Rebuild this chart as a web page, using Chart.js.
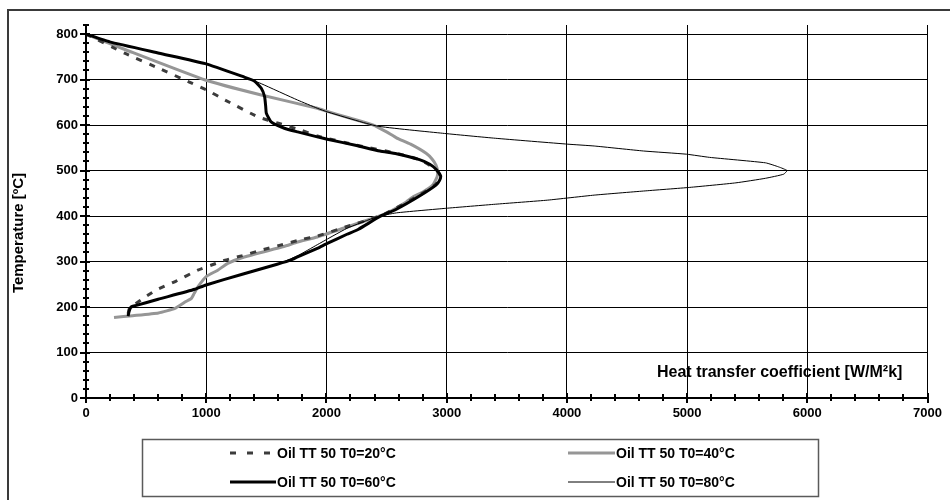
<!DOCTYPE html>
<html>
<head>
<meta charset="utf-8">
<script src="https://cdn.jsdelivr.net/npm/chart.js@4.4.1/dist/chart.umd.min.js"></script>
<style>
  html, body { margin: 0; padding: 0; background: #fff; }
  canvas { display: block; }
</style>
</head>
<body>
<canvas id="c" width="950" height="500"></canvas>
<script>
// Quench oil TT 50: heat transfer coefficient vs. surface temperature
// for four bath temperatures. Each curve is traced from 800 °C downward.

const seriesLabels = ['Oil TT 50 T0=20°C', 'Oil TT 50 T0=40°C', 'Oil TT 50 T0=60°C', 'Oil TT 50 T0=80°C'];

// T0 = 20 °C
const htc20  = [0, 321, 622, 855, 1006, 1157, 1431, 1600, 1786, 1924, 2250, 2582, 2774, 2911, 2945, 2911, 2774, 2582, 2445, 2171, 1924, 1801, 1617, 1458, 1316, 1157, 1083, 930, 750, 581, 455, 362, 350];
const temp20 = [800, 758, 723, 695, 677, 655, 618, 604, 589, 576, 556, 538, 524, 503, 488, 470, 446, 418, 400, 377, 356, 349, 336, 325, 314, 303, 296, 281, 257, 237, 215, 197, 185];

// T0 = 40 °C
const htc40  = [0, 334, 992, 1458, 1924, 2007, 2200, 2391, 2500, 2582, 2700, 2829, 2880, 2911, 2925, 2920, 2884, 2802, 2719, 2664, 2500, 2418, 2171, 1924, 1760, 1645, 1316, 1179, 1096, 1000, 932, 900, 877, 831, 740, 603, 389, 233];
const temp40 = [800, 765, 699, 666, 637, 630, 615, 600, 585, 572, 558, 538, 525, 512, 498, 486, 468, 453, 442, 431, 406, 398, 376, 354, 343, 333, 310, 296, 281, 267, 245, 230, 219, 212, 197, 187, 181, 177];

// T0 = 60 °C
const htc60  = [0, 197, 609, 992, 1321, 1400, 1458, 1486, 1495, 1500, 1540, 1650, 1760, 1924, 2007, 2250, 2445, 2582, 2774, 2860, 2911, 2950, 2940, 2911, 2774, 2582, 2445, 2267, 2171, 2007, 1924, 1760, 1703, 1590, 1300, 992, 905, 600, 411, 375, 360, 350];
const temp60 = [800, 783, 758, 735, 705, 697, 681, 662, 640, 626, 607, 593, 585, 574, 569, 555, 543, 537, 524, 514, 503, 488, 478, 468, 444, 415, 399, 371, 360, 340, 329, 310, 303, 294, 272, 248, 239, 217, 203, 200, 192, 180];

// T0 = 80 °C
const htc80  = [0, 197, 609, 992, 1321, 1400, 1458, 1760, 1924, 2007, 2418, 2966, 3405, 4008, 4227, 4638, 4994, 5187, 5652, 5762, 5831, 5803, 5652, 5406, 5022, 4638, 4227, 3840, 3405, 2993, 2582, 2418, 2171, 1924, 1755, 1590, 1300, 992, 905, 600, 411, 375, 360, 350];
const temp80 = [800, 783, 758, 735, 705, 697, 691, 655, 637, 629, 598, 582, 571, 558, 554, 543, 536, 529, 517, 508, 500, 492, 483, 473, 463, 455, 446, 435, 426, 417, 407, 398, 373, 337, 312, 294, 272, 248, 239, 217, 203, 200, 192, 180];

const xTitle = 'Heat transfer coefficient [W/M²k]';
const yTitle = 'Temperature [ºC]';

const FONT = '"Liberation Sans", Arial, Helvetica, sans-serif';

function points(xs, ys) {
  return xs.map((x, i) => ({ x: x, y: ys[i] }));
}

// Axis furniture, titles, outer frame and the boxed legend.
const decor = {
  id: 'decor',
  beforeDraw(chart) {
    const ctx = chart.ctx;
    ctx.save();
    ctx.fillStyle = '#fff';
    ctx.fillRect(0, 0, chart.width, chart.height);
    ctx.restore();
  },
  afterDraw(chart) {
    const ctx = chart.ctx;
    const xs = chart.scales.x, ys = chart.scales.y;
    const axisY = ys.getPixelForValue(0);
    const axisX = xs.getPixelForValue(0);
    ctx.save();

    // outer frame (left and top edges)
    ctx.strokeStyle = '#3a3a3a';
    ctx.lineWidth = 2;
    ctx.beginPath();
    ctx.moveTo(8, 500);
    ctx.lineTo(8, 10);
    ctx.lineTo(950, 10);
    ctx.stroke();

    // tick marks crossing both axes
    ctx.strokeStyle = '#000';
    ctx.lineWidth = 2;
    ctx.beginPath();
    for (let v = 0; v <= xs.max; v += 200) {
      const px = Math.round(xs.getPixelForValue(v));
      const major = v % 1000 === 0;
      ctx.moveTo(px, axisY - (major ? 5 : 4));
      ctx.lineTo(px, axisY + (major ? 5 : 3));
    }
    for (let v = 0; v <= ys.max; v += 20) {
      const py = Math.round(ys.getPixelForValue(v));
      const major = v % 100 === 0;
      ctx.moveTo(axisX - (major ? 6 : 3), py);
      ctx.lineTo(axisX + (major ? 4 : 3), py);
    }
    ctx.stroke();

    // axis titles
    ctx.fillStyle = '#000';
    ctx.font = 'bold 16px ' + FONT;
    ctx.textAlign = 'left';
    ctx.textBaseline = 'middle';
    ctx.fillText(xTitle, 657, 373);

    ctx.save();
    ctx.font = 'bold 15px ' + FONT;
    ctx.translate(19, 233);
    ctx.rotate(-Math.PI / 2);
    ctx.textAlign = 'center';
    ctx.fillText(yTitle, 0, 0);
    ctx.restore();

    // legend box
    ctx.strokeStyle = '#5a5a5a';
    ctx.lineWidth = 1.5;
    ctx.strokeRect(142.5, 439.5, 676, 57);

    const slots = [
      { x0: 230, x1: 276, y: 453 },
      { x0: 568, x1: 615, y: 453 },
      { x0: 230, x1: 276, y: 482 },
      { x0: 568, x1: 615, y: 482 }
    ];
    chart.data.datasets.forEach((ds, i) => {
      const s = slots[i];
      ctx.save();
      ctx.strokeStyle = ds.borderColor;
      ctx.lineWidth = ds.borderWidth;
      ctx.setLineDash(ds.legendDash || ds.borderDash || []);
      ctx.lineCap = 'butt';
      ctx.beginPath();
      ctx.moveTo(s.x0, s.y);
      ctx.lineTo(s.x1, s.y);
      ctx.stroke();
      ctx.restore();
      ctx.fillStyle = '#000';
      ctx.font = 'bold 14px ' + FONT;
      ctx.textAlign = 'left';
      ctx.textBaseline = 'middle';
      ctx.fillText(ds.label, s.x1 + 1, s.y + 1);
    });

    ctx.restore();
  }
};

const data = {
  datasets: [
    {
      label: seriesLabels[0],
      data: points(htc20, temp20),
      borderColor: '#3c3c3c',
      borderWidth: 3,
      borderDash: [6, 8],
      legendDash: [6, 11],
      order: 2
    },
    {
      label: seriesLabels[1],
      data: points(htc40, temp40),
      borderColor: '#969696',
      borderWidth: 3,
      order: 3
    },
    {
      label: seriesLabels[2],
      data: points(htc60, temp60),
      borderColor: '#000000',
      borderWidth: 3,
      order: 1
    },
    {
      label: seriesLabels[3],
      data: points(htc80, temp80),
      borderColor: '#000000',
      borderWidth: 1,
      order: 0
    }
  ]
};

const tickFont = { family: FONT, size: 13, weight: 'bold' };
const plainNumber = (v) => String(v);

new Chart(document.getElementById('c'), {
  type: 'scatter',
  data: data,
  plugins: [decor],
  options: {
    responsive: false,
    animation: false,
    devicePixelRatio: 1,
    layout: { padding: { left: 0, top: 25, right: 13, bottom: 0 } },
    elements: {
      point: { radius: 0, hoverRadius: 0 },
      line: { tension: 0.15, fill: false, borderJoinStyle: 'round', borderCapStyle: 'butt' }
    },
    datasets: { scatter: { showLine: true } },
    plugins: {
      legend: { display: false },
      tooltip: { enabled: false }
    },
    scales: {
      x: {
        type: 'linear',
        min: 0,
        max: 7000,
        afterFit: (s) => { s.height = 102; },
        ticks: { stepSize: 1000, color: '#000', font: tickFont, padding: 8, maxRotation: 0, callback: plainNumber },
        grid: { color: '#000', lineWidth: 1, drawTicks: false },
        border: { display: true, color: '#000', width: 2 }
      },
      y: {
        type: 'linear',
        min: 0,
        max: 820,
        afterFit: (s) => { s.width = 86; },
        ticks: { stepSize: 100, includeBounds: false, color: '#000', font: tickFont, padding: 8, callback: plainNumber },
        grid: { color: '#000', lineWidth: 1, drawTicks: false },
        border: { display: true, color: '#000', width: 2 }
      }
    }
  }
});
</script>
</body>
</html>
